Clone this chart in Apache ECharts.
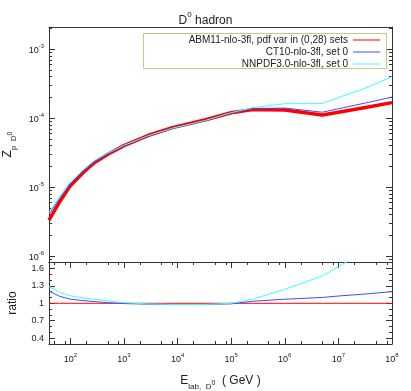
<!DOCTYPE html>
<html><head><meta charset="utf-8">
<script src="https://cdn.jsdelivr.net/npm/echarts@6/dist/echarts.min.js"></script>
<style>html,body{margin:0;padding:0;background:#fff}#c{width:411px;height:391px}</style>
</head><body><div id="c"></div>
<script>
// ---- data ----
const energies   = [40, 63, 100, 180, 280, 500, 1e3, 2.8e3, 8e3, 3.2e4, 1e5, 2.5e5, 1e6, 5e6, 1e7, 3.2e7, 1e8];
const abm11      = [3.33e-6, 6.1e-6, 1.05e-5, 1.67e-5, 2.26e-5, 3.0e-5, 4.0e-5, 5.6e-5, 7.3e-5, 9.4e-5, 1.2e-4, 1.33e-4, 1.31e-4, 1.11e-4, 1.22e-4, 1.43e-4, 1.68e-4];
const ct10       = [4.03e-6, 6.83e-6, 1.12e-5, 1.745e-5, 2.33e-5, 3.03e-5, 3.98e-5, 5.52e-5, 7.15e-5, 9.21e-5, 1.19e-4, 1.38e-4, 1.40e-4, 1.22e-4, 1.37e-4, 1.66e-4, 2.02e-4];
const nnpdf      = [4.30e-6, 7.26e-6, 1.19e-5, 1.82e-5, 2.42e-5, 3.12e-5, 4.04e-5, 5.55e-5, 7.15e-5, 9.21e-5, 1.2e-4, 1.42e-4, 1.62e-4, 1.63e-4, 1.99e-4, 2.72e-4, 4.0e-4];
const ratioAbm   = [1, 1, 1, 1, 1, 1, 1, 1, 1, 1, 1, 1, 1, 1, 1, 1, 1];
const ratioCt10  = [1.21, 1.12, 1.07, 1.045, 1.03, 1.01, 0.995, 0.985, 0.98, 0.98, 0.99, 1.035, 1.07, 1.10, 1.125, 1.16, 1.20];
const ratioNnpdf = [1.29, 1.19, 1.13, 1.09, 1.07, 1.04, 1.01, 0.99, 0.98, 0.98, 1.0, 1.07, 1.24, 1.47, 1.63, 1.9, 2.38];
const seriesNames = ['ABM11-nlo-3fl, pdf var in (0,28) sets', 'CT10-nlo-3fl, set 0', 'NNPDF3.0-nlo-3fl, set 0'];
const seriesColors = ['#ff0000', '#4848ff', '#40ffff'];
const xTickExps = [2, 3, 4, 5, 6, 7, 8];
const zTickExps = [-6, -5, -4, -3];
const ratioTicks = [0.4, 0.7, 1, 1.3, 1.6];
const xRange = [40, 1e8];
const zRange = [8.2e-7, 2.1e-3];
const ratioRange = [0.3, 1.71];

// ---- build ----
const F = 'Liberation Sans, Arial, Helvetica, sans-serif';
const lx = Math.log10;
const AX = '#333';
const xMinorTicks = [];
for (let d = 1; d <= 7; d++) for (const k of [2, 5, 8]) {
  const v = lx(k * Math.pow(10, d));
  if (v > lx(xRange[0]) && v < lx(xRange[1])) xMinorTicks.push(v);
}
const zMinorTicks = [];
for (let d = -7; d <= -3; d++) for (let k = 2; k <= 9; k++) {
  const v = lx(k * Math.pow(10, d));
  if (v > lx(zRange[0]) && v < lx(zRange[1])) zMinorTicks.push(v);
}
const ratioMinorTicks = [];
for (let i = 3; i <= 17; i++) {
  const v = i / 10;
  if (!ratioTicks.some(t => Math.abs(t - v) < 1e-9)) ratioMinorTicks.push(v);
}
const supRich = {
  b: {fontFamily: F, fontSize: 9, color: '#222', lineHeight: 12, verticalAlign: 'bottom'},
  s: {fontFamily: F, fontSize: 6, color: '#222', lineHeight: 12, verticalAlign: 'top'}
};
const nameRich = {
  b: {fontFamily: F, fontSize: 12, color: '#222', lineHeight: 16, verticalAlign: 'top'},
  sb: {fontFamily: F, fontSize: 8, color: '#222', lineHeight: 16, verticalAlign: 'bottom'},
  ss: {fontFamily: F, fontSize: 7, color: '#222', lineHeight: 16, verticalAlign: 'middle'}
};

function xAx(grid, pos, ticks, len, line, labels) {
  return {
    type: 'value', gridIndex: grid, position: pos,
    min: lx(xRange[0]), max: lx(xRange[1]),
    splitLine: {show: false},
    axisLine: {show: line, lineStyle: {color: AX, width: 1}},
    axisTick: ticks ? {show: true, inside: true, length: len, customValues: ticks, lineStyle: {color: AX}} : {show: false},
    axisLabel: labels ? {show: true, customValues: xTickExps, margin: 8,
      formatter: v => '{b|10}{s|' + Math.round(v) + '}', rich: supRich} : {show: false}
  };
}
function yAx(grid, pos, min, max, ticks, len, line, labels) {
  return {
    type: 'value', gridIndex: grid, position: pos, min: min, max: max,
    splitLine: {show: false},
    axisLine: {show: line, onZero: false, lineStyle: {color: AX, width: 1}},
    axisTick: ticks ? {show: true, inside: true, length: len, customValues: ticks, lineStyle: {color: AX}} : {show: false},
    axisLabel: labels || {show: false}
  };
}

const xAxes = [
  xAx(0, 'bottom', null, 0, true, false),
  xAx(0, 'top', null, 0, true, false),
  Object.assign(xAx(1, 'bottom', xTickExps, 6, true, true), {
    name: '{b|E}{sb|lab,  D}{ss|0}{b|  ( GeV )}', nameLocation: 'middle', nameGap: 31,
    nameTextStyle: {rich: nameRich}
  }),
  xAx(1, 'bottom', xMinorTicks, 3, false, false),
  xAx(1, 'top', xTickExps, 6, true, false),
  xAx(1, 'top', xMinorTicks, 3, false, false)
];
const zMin = lx(zRange[0]), zMax = lx(zRange[1]);
const yAxes = [
  Object.assign(yAx(0, 'left', zMin, zMax, zTickExps, 6, true, {
    show: true, customValues: zTickExps, margin: 5,
    formatter: v => '{b|10}{s|' + Math.round(v) + '}', rich: supRich
  }), {
    name: '{b|Z}{sb|p  D}{ss|0}', nameLocation: 'middle', nameGap: 26, nameRotate: 90,
    nameTextStyle: {rich: nameRich}
  }),
  yAx(0, 'left', zMin, zMax, zMinorTicks, 3, false, null),
  yAx(0, 'right', zMin, zMax, zTickExps, 6, true, null),
  yAx(0, 'right', zMin, zMax, zMinorTicks, 3, false, null),
  Object.assign(yAx(1, 'left', ratioRange[0], ratioRange[1], ratioTicks, 6, true, {
    show: true, customValues: ratioTicks, margin: 5, fontFamily: F, fontSize: 9, color: '#222',
    formatter: v => String(Math.round(v * 10) / 10)
  }), {
    name: 'ratio', nameLocation: 'middle', nameGap: 30, nameRotate: 90,
    nameTextStyle: {fontFamily: F, fontSize: 12, color: '#222'}
  }),
  yAx(1, 'left', ratioRange[0], ratioRange[1], ratioMinorTicks, 3, false, null),
  yAx(1, 'right', ratioRange[0], ratioRange[1], ratioTicks, 6, true, null),
  yAx(1, 'right', ratioRange[0], ratioRange[1], ratioMinorTicks, 3, false, null)
];

const absData = [abm11, ct10, nnpdf];
const ratioData = [ratioAbm, ratioCt10, ratioNnpdf];
const series = [];
absData.forEach((arr, s) => {
  series.push({
    type: 'line', name: seriesNames[s], xAxisIndex: 0, yAxisIndex: 0,
    data: energies.map((e, i) => [lx(e), lx(arr[i])]),
    symbol: 'none', clip: true, z: 2 + s,
    lineStyle: {color: seriesColors[s], width: s === 0 ? 3.5 : 1},
    itemStyle: {color: seriesColors[s]}
  });
});
ratioData.forEach((arr, s) => {
  series.push({
    type: 'line', name: seriesNames[s], xAxisIndex: 2, yAxisIndex: 4,
    data: energies.map((e, i) => [lx(e), arr[i]]),
    symbol: 'none', clip: true, z: 2 + s,
    lineStyle: {color: seriesColors[s], width: 1},
    itemStyle: {color: seriesColors[s]}
  });
});

const option = {
  animation: false,
  backgroundColor: '#fff',
  title: {
    text: '{b|D}{s|0}{b| hadron}', left: 'center', top: 6,
    textStyle: {fontWeight: 'normal', rich: {
      b: {fontFamily: F, fontSize: 12, fontWeight: 'normal', color: '#222', lineHeight: 16, verticalAlign: 'bottom'},
      s: {fontFamily: F, fontSize: 8, fontWeight: 'normal', color: '#222', lineHeight: 16, verticalAlign: 'top'}
    }}
  },
  grid: [
    {left: 49, right: 19, top: 27, height: 235, outerBoundsMode: 'none'},
    {left: 49, right: 19, top: 262, height: 82, outerBoundsMode: 'none'}
  ],
  legend: {
    data: seriesNames.map((n, i) => ({name: n, icon: 'rect', itemStyle: {color: seriesColors[i]}})),
    orient: 'vertical', align: 'right', right: 31, top: 34,
    itemWidth: 27, itemHeight: 1, itemGap: 0, padding: 0,
    textStyle: {fontFamily: F, fontSize: 10, color: '#222', lineHeight: 12}
  },
  graphic: [{
    type: 'rect', z: 1, shape: {x: 143.5, y: 33.5, width: 243, height: 35},
    style: {fill: 'none', stroke: '#c8c888', lineWidth: 1}
  }],
  xAxis: xAxes,
  yAxis: yAxes,
  series: series
};
const chart = echarts.init(document.getElementById('c'), null, {renderer: 'canvas'});
chart.setOption(option);
</script>
</body></html>
